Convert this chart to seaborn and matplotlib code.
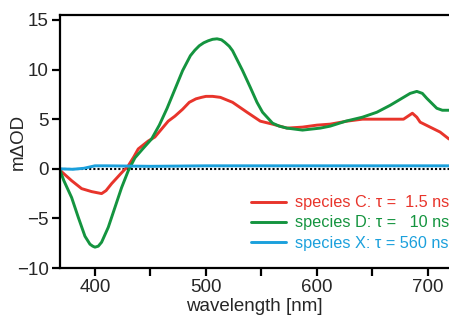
import matplotlib
matplotlib.use("Agg")
import matplotlib.pyplot as plt
import seaborn as sns
import numpy as np

# wavelengths [nm] and transient spectra (mdOD)
wl_c = [368, 370, 379, 388, 397, 406, 410, 415, 424, 430, 435, 439, 448, 454, 460, 466, 472,
        479, 485, 491, 496, 500, 506, 513, 524, 537, 549, 560, 573, 587, 600, 612, 627, 641,
        666, 678, 682, 686, 690, 693, 702, 711, 719]
species_c = [0.0, -0.3, -1.2, -2.0, -2.3, -2.5, -2.2, -1.5, -0.4, 0.3, 1.2, 2.0, 2.8, 3.2, 4.0,
             4.8, 5.3, 6.0, 6.7, 7.05, 7.2, 7.3, 7.3, 7.2, 6.7, 5.7, 4.8, 4.5, 4.1, 4.2, 4.4,
             4.5, 4.8, 5.0, 5.0, 5.0, 5.3, 5.6, 5.2, 4.7, 4.2, 3.7, 3.0]

wl_d = [368, 372, 379, 385, 391, 395.5, 398, 400, 403, 406, 412, 418, 424, 430, 436, 443, 451,
        458, 465, 472, 479, 486, 490, 494, 498, 502, 506, 510, 514, 517, 521, 524, 533, 540,
        546, 551, 560, 566, 573, 587, 603, 612, 626, 641, 654, 666, 678, 684, 690, 695, 699,
        708, 713, 719]
species_d = [0.0, -1.2, -2.9, -4.9, -6.8, -7.6, -7.8, -7.9, -7.8, -7.4, -5.9, -3.9, -1.9, -0.2,
             1.1, 2.0, 3.0, 4.4, 6.1, 8.0, 9.9, 11.4, 11.95, 12.4, 12.7, 12.9, 13.05, 13.1,
             13.0, 12.75, 12.35, 11.9, 9.9, 8.2, 6.7, 5.7, 4.6, 4.3, 4.1, 3.9, 4.1, 4.3, 4.8,
             5.2, 5.7, 6.4, 7.2, 7.6, 7.8, 7.6, 7.1, 6.1, 5.9, 5.9]

wl_x = [368, 380, 390, 400, 410, 450, 500, 600, 700, 719]
species_x = [0.0, -0.05, 0.05, 0.3, 0.3, 0.25, 0.3, 0.3, 0.3, 0.3]

labels = ["species C: \u03c4 =  1.5 ns", "species D: \u03c4 =   10 ns", "species X: \u03c4 = 560 ns"]
colors = ["#E8342B", "#14943F", "#1BA0DC"]

sns.set_style("ticks")
plt.rcParams['font.family'] = ['Liberation Sans', 'DejaVu Sans']

fig = plt.figure(figsize=(4.49, 3.22), dpi=100)
ax = fig.add_axes([0.1336, 0.1677, 0.8664, 0.7857])

ax.axhline(0, color="black", ls=(0, (1, 1)), lw=1.5, zorder=1)
sns.lineplot(x=wl_c, y=species_c, color=colors[0], lw=2.1, label=labels[0], ax=ax)
sns.lineplot(x=wl_d, y=species_d, color=colors[1], lw=2.1, label=labels[1], ax=ax)
sns.lineplot(x=wl_x, y=species_x, color=colors[2], lw=2.1, label=labels[2], ax=ax)

ax.set_xlim(368.5, 719)
ax.set_ylim(-10, 15.5)
ax.set_xticks(np.arange(400, 701, 50))
ax.set_xticklabels(["400", "", "500", "", "600", "", "700"])
ax.set_yticks([-10, -5, 0, 5, 10, 15])
ax.tick_params(direction="out", length=6, width=1.6, labelsize=13.5, color="black", pad=2)
for side in ["left", "top", "bottom"]:
    ax.spines[side].set_linewidth(1.6)
    ax.spines[side].set_color("black")
ax.spines["right"].set_visible(False)

ax.set_xlabel("wavelength [nm]", fontsize=13.5, labelpad=1)
ax.set_ylabel("m\u0394OD", fontsize=13.5)
ax.yaxis.set_label_coords(-0.085, 0.5)

leg = ax.legend(loc="center left", bbox_to_anchor=(0.49, 0.178), frameon=False,
                fontsize=11.7, handlelength=2.2, labelspacing=0.32, handletextpad=0.55,
                borderaxespad=0, borderpad=0)
for txt, c in zip(leg.get_texts(), colors):
    txt.set_color(c)

fig.savefig("out.png", dpi=100)
